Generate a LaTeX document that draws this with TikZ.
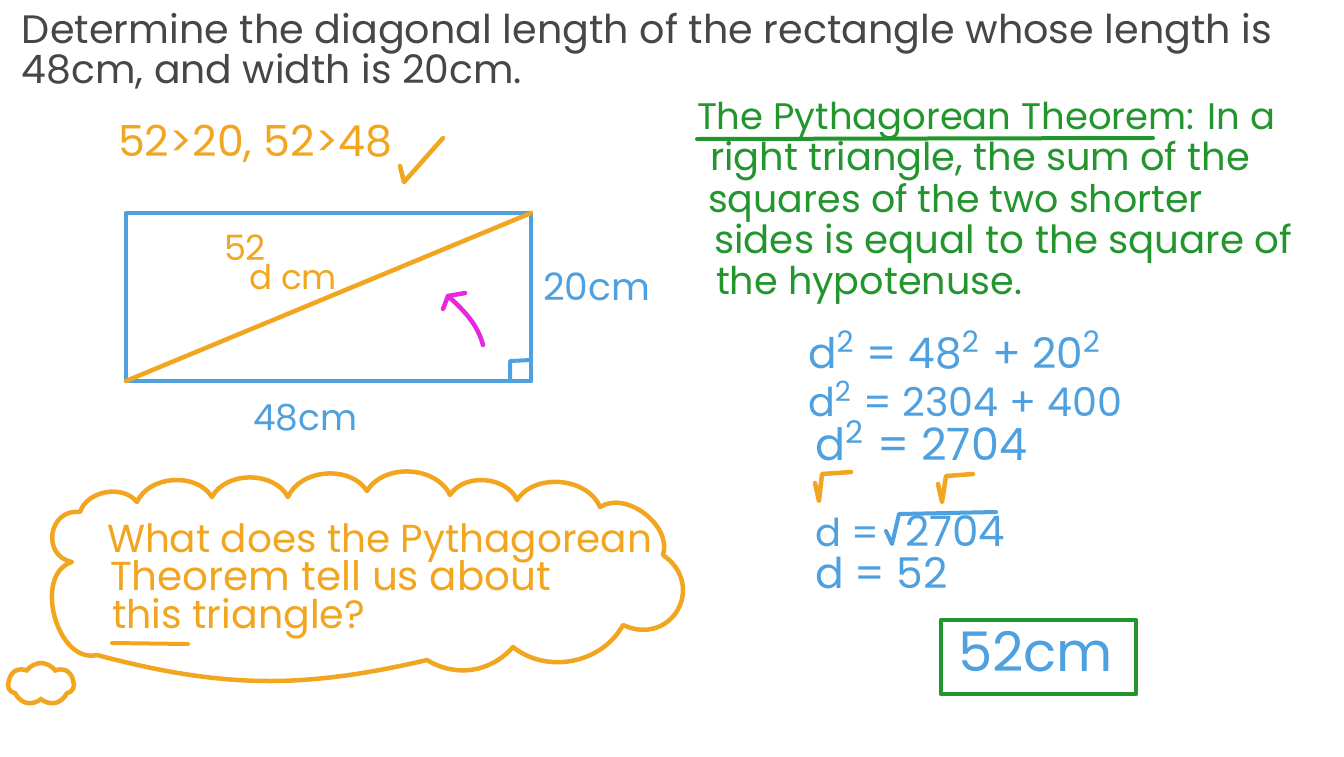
\documentclass[tikz,border=0pt]{standalone}
\usepackage{fontspec}
\setmainfont{Poppins}
\usetikzlibrary{shapes.symbols}
\definecolor{ink}{RGB}{70,70,70}
\definecolor{org}{RGB}{242,165,30}
\definecolor{blu}{RGB}{79,160,222}
\definecolor{grn}{RGB}{34,150,45}
\definecolor{mag}{RGB}{232,40,222}
\newcommand{\fw}[2]{\resizebox{#1pt}{!}{#2}}
\newcommand{\sq}{\textsuperscript{2}}
\tikzset{
  txt/.style={anchor=base west, inner sep=0pt, outer sep=0pt},
  pen/.style={line width=4.5pt, line cap=round, line join=round},
  thin pen/.style={line width=4pt, line cap=round, line join=round},
  puff/.style={bend left=62}
}
\begin{document}
\begin{tikzpicture}[x=1pt,y=-1pt]
\useasboundingbox (0,0) rectangle (1344,756);
\fill[white] (0,0) rectangle (1344,756);

% title
\node[txt, text=ink] (t1) at (22,43) {\fw{1250}{Determine the diagonal length of the rectangle whose length is}};
\node[txt, text=ink] (t2) at (22,83) {\fw{500}{48cm, and width is 20cm.}};

% comparisons and check
\node[txt, text=org] (cmp) at (118,156) {\fw{274}{52>20, 52>48}};
\coordinate (k1) at (400,166);
\coordinate (k2) at (404,182);
\coordinate (k3) at (443,138);
\draw[pen, org] (k1) -- (k2) -- (k3);

% rectangle
\coordinate (A) at (126,381);
\coordinate (B) at (531,381);
\coordinate (C) at (531,213);
\coordinate (D) at (126,213);
\draw[pen, blu] (A) -- (B) -- (C) -- (D) -- cycle;
\coordinate (r1) at (510,381);
\coordinate (r2) at (510,361);
\coordinate (r3) at (531,360);
\draw[thin pen, blu] (r1) -- (r2) -- (r3);
\draw[pen, org] (A) -- (C);

\node[txt, text=org] (n52) at (224,260) {\fw{42}{52}};
\node[txt, text=org] (dcm) at (249,289) {\fw{88}{d cm}};
\node[txt, text=blu] (w20) at (543,300) {\fw{107}{20cm}};
\node[txt, text=blu] (l48) at (253,430) {\fw{104}{48cm}};

% magenta arrow
\coordinate (m0) at (483,345);
\coordinate (m1) at (448,296);
\coordinate (m2) at (443,309);
\coordinate (m3) at (465,293);
\draw[pen, mag] (m0) .. controls (478,326) and (466,312) .. (m1);
\draw[pen, mag] (m2) -- (m1) -- (m3);

% green theorem
\node[txt, text=grn] (g1) at (697,129) {\fw{578}{The Pythagorean Theorem: In a}};
\node[txt, text=grn] (g2) at (710,170) {\fw{540}{right triangle, the sum of the}};
\node[txt, text=grn] (g3) at (708,212) {\fw{495}{squares of the two shorter}};
\node[txt, text=grn] (g4) at (714,253) {\fw{578}{sides is equal to the square of}};
\node[txt, text=grn] (g5) at (716,294) {\fw{306}{the hypotenuse.}};
\coordinate (u1) at (697,139);
\coordinate (u2) at (1153,138);
\draw[thin pen, grn] (u1) -- (u2);

% equations
\node[txt, text=blu] (e1) at (808,368) {\fw{294}{d\sq\ = 48\sq\ + 20\sq}};
\node[txt, text=blu] (e2) at (808,416) {\fw{314}{d\sq\ = 2304 + 400}};
\node[txt, text=blu] (e3) at (815,460) {\fw{212}{d\sq\ = 2704}};
\coordinate (s1) at (815,483);
\coordinate (s2) at (819,501);
\coordinate (s3) at (822,474);
\coordinate (s4) at (851,472);
\draw[pen, org] (s1) -- (s2) -- (s3) -- (s4);
\coordinate (s5) at (938,484);
\coordinate (s6) at (942,502);
\coordinate (s7) at (946,476);
\coordinate (s8) at (973,474);
\draw[pen, org] (s5) -- (s6) -- (s7) -- (s8);
\node[txt, text=blu] (e4a) at (815,546) {\fw{64}{d =}};
\node[txt, text=blu] (e4b) at (905,546) {\fw{100}{2704}};
\coordinate (v1) at (886,531);
\coordinate (v2) at (892,544);
\coordinate (v3) at (899,514);
\coordinate (v4) at (996,512);
\draw[thin pen, blu] (v1) -- (v2) -- (v3) -- (v4);
\node[txt, text=blu] (e5) at (815,588) {\fw{133}{d = 52}};

% answer box
\coordinate (bx1) at (941,620);
\coordinate (bx2) at (1136,694);
\draw[pen, grn] (bx1) rectangle (bx2);
\node[txt, text=blu] (ans) at (958,671) {\fw{155}{52cm}};

% big cloud (hand drawn outline)
\coordinate (P1) at (80,512);
\coordinate (P2) at (137,502);
\coordinate (P3) at (212,497);
\coordinate (P4) at (288,497);
\coordinate (P5) at (367,491);
\coordinate (P6) at (450,495);
\coordinate (P7) at (517,500);
\coordinate (P8) at (600,507);
\coordinate (P9) at (663,555);
\coordinate (P10) at (623,625);
\coordinate (P11) at (513,647);
\coordinate (P12) at (427,660);
\coordinate (P13) at (97,655);
\coordinate (P14) at (72,562);
\draw[pen, org]
  (P1) to[puff] (P2) to[puff] (P3) to[puff] (P4) to[puff] (P5)
  to[puff] (P6) to[puff] (P7) to[puff] (P8)
  to[bend left=70] (P9) to[bend left=85, looseness=1.7] (P10)
  to[bend left=50] (P11) to[bend left=40] (P12)
  to[bend left=14] (P13) to[bend left=88, looseness=1.1] (P14)
  to[bend left=88, looseness=1.6] cycle;
\node[cloud, draw=org, line width=4.5pt, cloud puffs=7, cloud puff arc=110,
      minimum width=66pt, minimum height=42pt, aspect=1.6, inner sep=0pt] (cs) at (41,684) {};
\node[txt, text=org] (c1) at (107,552) {\fw{545}{What does the Pythagorean}};
\node[txt, text=org] (c2) at (110,590) {\fw{441}{Theorem tell us about}};
\node[txt, text=org] (c3) at (112,628) {\fw{253}{this triangle?}};
\coordinate (cu1) at (112,643);
\coordinate (cu2) at (188,644);
\draw[thin pen, org] (cu1) -- (cu2);
\end{tikzpicture}
\end{document}
